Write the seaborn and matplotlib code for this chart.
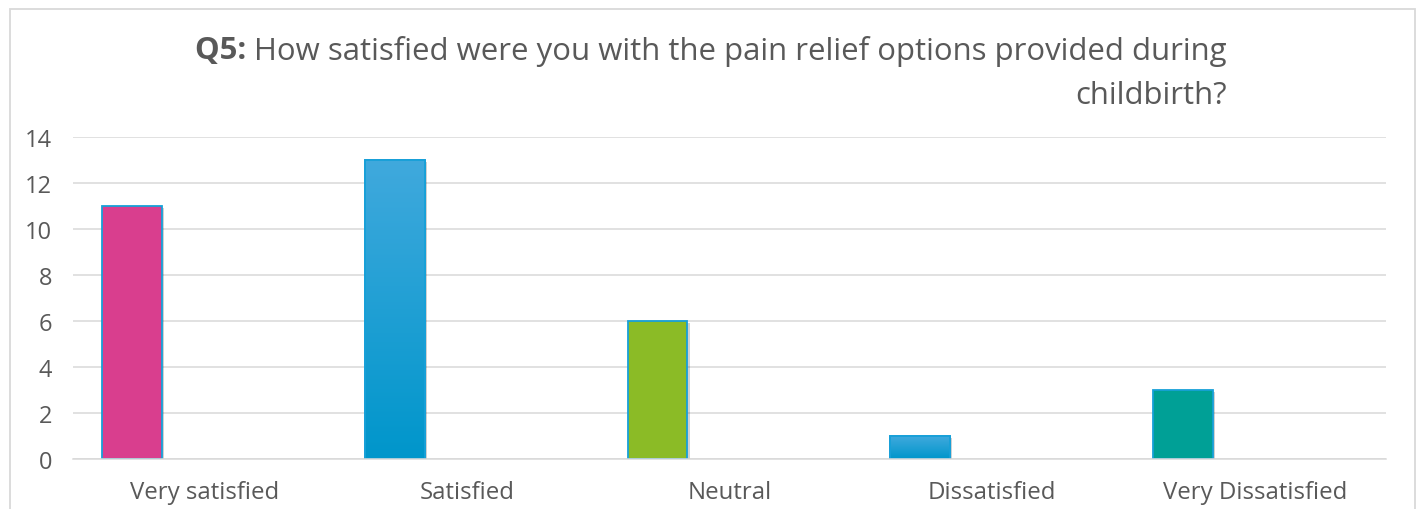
import numpy as np
import pandas as pd
import matplotlib
matplotlib.use("Agg")
import matplotlib.pyplot as plt
import seaborn as sns
from matplotlib.patches import Rectangle
from matplotlib import patheffects as pe

# Survey responses
categories = ["Very satisfied", "Satisfied", "Neutral", "Dissatisfied", "Very Dissatisfied"]
counts = [11, 13, 6, 1, 3]
companion = [0, 0, 0, 0, 0]
bar_colors = ["#D93E8E", "gradient", "#8BBB26", "gradient", "#00A096"]
yticks = [0, 2, 4, 6, 8, 10, 12, 14]
title_lead = "Q5:"
title_body = "How satisfied were you with the pain relief options provided during\nchildbirth?"

sns.set_theme(style="white")
FONT = ["Open Sans", "DejaVu Sans"]
plt.rcParams["font.family"] = FONT
TEXT_COLOR = "#595959"

df = pd.DataFrame({
    "category": categories * 2,
    "series": ["responses"] * len(categories) + ["other"] * len(categories),
    "count": counts + companion,
})

W, H = 1421, 510
fig = plt.figure(figsize=(W / 100, H / 100), dpi=100)
ax = fig.add_axes([73 / W, 1 - 460 / H, (1386 - 73) / W, (460 - 138) / H])

sns.barplot(data=df, x="category", y="count", hue="series",
            hue_order=["responses", "other"], order=categories,
            width=1.096, gap=0.584, dodge=True, legend=False,
            errorbar=None, ax=ax)

ax.set_yticks(yticks)
ax.set_xlabel("")
ax.set_ylabel("")

# gridlines and spines
ax.grid(axis="y", color="#D9D9D9", linewidth=1.1)
ax.set_axisbelow(True)
for side in ["top", "right", "left"]:
    ax.spines[side].set_visible(False)
ax.spines["bottom"].set_color("#D9D9D9")
ax.spines["bottom"].set_linewidth(1.1)
ax.tick_params(axis="y", length=0, pad=15, labelsize=17, labelcolor=TEXT_COLOR)
ax.tick_params(axis="x", length=0, pad=15, labelsize=17.3, labelcolor=TEXT_COLOR)

# hide companion series
for p in ax.containers[1]:
    p.set_visible(False)

shadow = [pe.SimplePatchShadow(offset=(1.5, -1.5), shadow_rgbFace="#000000", alpha=0.18), pe.Normal()]
grad = np.linspace(0, 1, 256)
top_rgb = np.array(matplotlib.colors.to_rgb("#40A9DD"))
bot_rgb = np.array(matplotlib.colors.to_rgb("#0096CB"))
grad_img = (top_rgb[None, :] * (1 - grad[:, None]) + bot_rgb[None, :] * grad[:, None]).reshape(256, 1, 3)

for p, c in zip(ax.containers[0], bar_colors):
    p.set_edgecolor("#17A0D8")
    p.set_linewidth(1.3)
    p.set_path_effects(shadow)
    if c == "gradient":
        p.set_facecolor("#20A0D5")
        x0, y0 = p.get_x(), p.get_y()
        w, h = p.get_width(), p.get_height()
        im = ax.imshow(grad_img, extent=[x0, x0 + w, y0, y0 + h],
                       aspect="auto", origin="upper", zorder=p.get_zorder() + 0.1)
        im.set_clip_path(p)
        ax.add_patch(Rectangle((x0, y0), w, h, facecolor="none", edgecolor="#17A0D8",
                               linewidth=1.3, zorder=p.get_zorder() + 0.2))
    else:
        p.set_facecolor(c)

ax.set_ylim(0, 14)
ax.set_xlim(-0.5, len(categories) - 0.5)

# chart frame
fig.patches.append(Rectangle((10 / W, -0.05), (1415 - 10) / W, 1 - 10 / H + 0.05,
                             transform=fig.transFigure, facecolor="none",
                             edgecolor="#D9D9D9", linewidth=1.3))

# title: bold lead followed by right-aligned two-line body, block centred
TITLE_SIZE = 22.4
title_top = 1 - 36 / H
lead = fig.text(0, title_top, title_lead + " ", ha="left", va="top",
                fontsize=TITLE_SIZE, fontweight="bold", color=TEXT_COLOR)
body = fig.text(0, title_top, title_body, ha="left", va="top", multialignment="right",
                fontsize=TITLE_SIZE, color=TEXT_COLOR, linespacing=1.62)
fig.canvas.draw()
r = fig.canvas.get_renderer()
lw = lead.get_window_extent(r).width / W
bw = body.get_window_extent(r).width / W
start = 0.5 - (lw + bw) / 2
lead.set_x(start)
body.set_x(start + lw)

fig.savefig("out.png", dpi=100)
